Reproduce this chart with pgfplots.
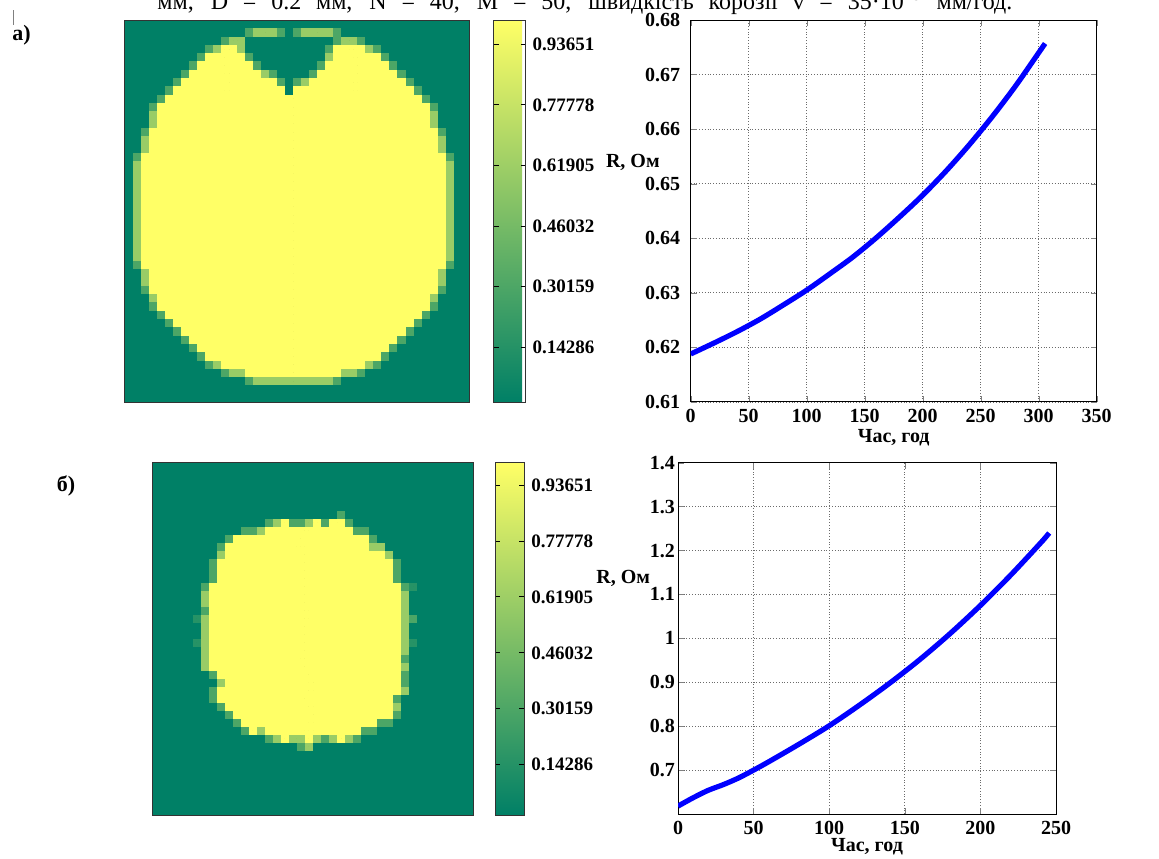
\documentclass[border=0pt]{standalone}
\usepackage{fontspec}
\setmainfont{Liberation Serif}
\usepackage{pgfplots}
\pgfplotsset{compat=1.18}
\definecolor{s0}{rgb}{0,0.5,0.4}
\definecolor{sF}{rgb}{0.15,0.575,0.4}
\definecolor{sM}{rgb}{0.3,0.65,0.4}
\definecolor{sL}{rgb}{0.6,0.8,0.4}
\definecolor{sY}{rgb}{1,1,0.4}
\definecolor{gridc}{rgb}{0.42,0.42,0.42}
\pgfplotsset{
  cellsbase/.style={only marks, mark=*, mark size=0pt, mark options={draw=none, fill=none},
    error bars/x dir=both, error bars/x explicit, error bars/error mark=none},
  heat/.style={scale only axis, xtick=\empty, ytick=\empty, y dir=reverse,
    axis background/.style={fill=s0}, axis line style={black!80, line width=0.5pt},
    colorbar, colormap={summer}{rgb=(0,0.5,0.4) rgb=(1,1,0.4)},
    point meta min=0, point meta max=1},
  cbarcommon/.style={colorbar style={
     scale only axis,
     ytick={0.14286,0.30159,0.46032,0.61905,0.77778,0.93651},
     yticklabels={0.14286,0.30159,0.46032,0.61905,0.77778,0.93651},
     tick align=inside,
     major tick length=2.5pt, major tick style={black, line width=0.5pt},
     yticklabel style={font=\bfseries\fontsize{9.5}{11}\selectfont},
     axis line style={black!80, line width=0.5pt}}},
  rplot/.style={scale only axis, grid=major,
     major grid style={densely dotted, gridc, line width=0.45pt},
     tick align=inside, major tick length=3pt, axis line style={black, line width=0.5pt},
     /pgf/number format/assume math mode=true,
     ticklabel style={font=\bfseries\fontsize{10}{12}\selectfont},
     xlabel={Час, год}, ylabel={R, Ом},
     scaled y ticks=false,
     yticklabel style={/pgf/number format/fixed, /pgf/number format/precision=2}},
}
\begin{document}
\begin{tikzpicture}
\path[use as bounding box] (0pt,0pt) rectangle (579.5pt,-429pt);
\draw[gray, line width=0.5pt] (6.75pt,-5pt) -- (6.75pt,-12.5pt);
\node[anchor=base west, font=\fontsize{12}{14}\selectfont, inner sep=0pt, text depth=0pt] at (78.5pt,-4.8pt) {\makebox[427.5pt][s]{мм, D = 0.2 мм, N = 40, M = 50, швидкість корозії v = 35·10\textsuperscript{−5} мм/год.}};
\node[font=\bfseries\fontsize{11}{13}\selectfont] at (10.75pt,-17.5pt) {а)};
\node[font=\bfseries\fontsize{11}{13}\selectfont] at (33pt,-243pt) {б)};

% ---------- heatmap a) ----------
\begin{axis}[heat, at={(62.35pt,-10pt)}, anchor=north west, width=172.5pt, height=191pt,
  xmin=0, xmax=43, ymin=0, ymax=46, cbarcommon,
  colorbar style={at={(parent axis.north east)}, anchor=north west, xshift=3.4pt, width=16pt, height=191pt}]
\addplot[cellsbase, error bars/error bar style={line width=4.25pt, color=sM}] table[x index=0,y index=1,x error index=2] {
17.5 1.5 2.5
24 1.5 3
13.5 2.5 1.5
28 2.5 2
12.5 3.5 2.5
28.5 3.5 3.5
12.5 4.5 3.5
29 4.5 4
12.5 5.5 4.5
29 5.5 5
13 6.5 6
29 6.5 6
13 7.5 7
28.5 7.5 7.5
12.5 8.5 7.5
29 8.5 8
21 9.5 17
21 10.5 18
21 13.5 19
21 16.5 20
21 29.5 20
21 32.5 19
21 34.5 18
21 35.5 17
21 36.5 16
21 37.5 15
21 38.5 14
21 39.5 13
21 40.5 12
21 41.5 11
21 42.5 9
21 43.5 6
};
\addplot[cellsbase, error bars/error bar style={line width=4.25pt, color=sL}] table[x index=0,y index=1,x error index=2] {
17.5 1.5 1.5
24 1.5 2
14 2.5 1
28 2.5 1
13 3.5 2
28.5 3.5 2.5
28.5 4.5 3.5
13 6.5 5
28.5 7.5 6.5
21 11.5 18
21 12.5 18
21 14.5 19
21 15.5 19
21 17.5 20
21 18.5 20
21 19.5 20
21 20.5 20
21 21.5 20
21 22.5 20
21 23.5 20
21 24.5 20
21 25.5 20
21 26.5 20
21 27.5 20
21 28.5 20
21 30.5 19
21 31.5 19
21 33.5 18
21 41.5 10
21 42.5 8
21 43.5 5
};
\addplot[cellsbase, error bars/error bar style={line width=4.25pt, color=sY}] table[x index=0,y index=1,x error index=2] {
13 3.5 1
28 3.5 2
12.5 4.5 2.5
29 4.5 3
12.5 5.5 3.5
29 5.5 4
12.5 6.5 4.5
29 6.5 5
13 7.5 6
29 7.5 6
13 8.5 7
28.5 8.5 7.5
21 9.5 16
21 10.5 17
21 11.5 17
21 12.5 17
21 13.5 18
21 14.5 18
21 15.5 18
21 16.5 19
21 17.5 19
21 18.5 19
21 19.5 19
21 20.5 19
21 21.5 19
21 22.5 19
21 23.5 19
21 24.5 19
21 25.5 19
21 26.5 19
21 27.5 19
21 28.5 19
21 29.5 19
21 30.5 18
21 31.5 18
21 32.5 18
21 33.5 17
21 34.5 17
21 35.5 16
21 36.5 15
21 37.5 14
21 38.5 13
21 39.5 12
21 40.5 11
21 41.5 9
21 42.5 6
};
\end{axis}

% ---------- line plot a) ----------
\begin{axis}[rplot, at={(345.35pt,-10pt)}, anchor=north west, width=203pt, height=191pt,
  xmin=0, xmax=350, ymin=0.61, ymax=0.68,
  xtick={0,50,100,150,200,250,300,350},
  ytick={0.61,0.62,0.63,0.64,0.65,0.66,0.67,0.68},
  yticklabel style={xshift=-1.7pt},
  every axis y label/.style={at={(axis description cs:0,0.626)}, anchor=east, xshift=-12pt,
    font=\bfseries\fontsize{10}{12}\selectfont},
  every axis x label/.style={at={(axis description cs:0.5,0)}, anchor=center, yshift=-18pt,
    font=\bfseries\fontsize{10}{12}\selectfont}]
\addplot[blue, line width=2.6pt, smooth] table {
0 0.6188
20 0.6208
40 0.6229
60 0.6252
80 0.6278
100 0.6305
120 0.6335
140 0.6366
160 0.6401
180 0.6439
200 0.6479
220 0.6523
240 0.6571
260 0.6623
280 0.6679
300 0.6740
305.5 0.6757
};
\end{axis}

% ---------- heatmap b) ----------
\begin{axis}[heat, at={(76.35pt,-231.35pt)}, anchor=north west, width=160.3pt, height=176.15pt,
  xmin=0, xmax=40, ymin=0, ymax=44, cbarcommon,
  colorbar style={at={(parent axis.north east)}, anchor=north west, xshift=2.35pt, width=14.65pt, height=176.15pt}]
\addplot[cellsbase, error bars/error bar style={line width=4.1pt, color=sF}] table[x index=0,y index=1,x error index=2] {
32.5 15.5 0.5
5.5 19.5 0.5
5.5 22.5 0.5
32.5 22.5 0.5
};
\addplot[cellsbase, error bars/error bar style={line width=4.1pt, color=sM}] table[x index=0,y index=1,x error index=2] {
23.5 6.5 0.5
19.5 7.5 5.5
19 8.5 8
18.5 9.5 9.5
18.5 10.5 10.5
19 12.5 12
19 13.5 12
19 14.5 12
19 15.5 13
19 18.5 13
19.5 19.5 13.5
19 24.5 13
19.5 26.5 12.5
20 27.5 12
19.5 28.5 12.5
19 29.5 12
19.5 30.5 11.5
20 31.5 11
20 32.5 10
19.5 33.5 8.5
20 34.5 6
19 35.5 1
};
\addplot[cellsbase, error bars/error bar style={line width=4.1pt, color=sL}] table[x index=0,y index=1,x error index=2] {
16 7.5 1
20 7.5 1
19 8.5 6
19 10.5 10
19 11.5 11
19 16.5 13
19 17.5 13
19.5 18.5 12.5
19 19.5 13
19 20.5 13
19 21.5 13
19 22.5 13
19 23.5 13
18.5 24.5 12.5
19 25.5 13
19.5 27.5 11.5
20 28.5 12
20 30.5 11
19 33.5 7
18 34.5 3
23.5 34.5 1.5
19.5 35.5 0.5
};
\addplot[cellsbase, error bars/error bar style={line width=4.1pt, color=sY}] table[x index=0,y index=1,x error index=2] {
16.5 7.5 0.5
20.5 7.5 0.5
23 7.5 1
19.5 8.5 5.5
18.5 9.5 8.5
18 10.5 9
19 11.5 10
19 12.5 11
19 13.5 11
19 14.5 11
19 15.5 12
19 16.5 12
19 17.5 12
19 18.5 12
19 19.5 12
19 20.5 12
19 21.5 12
19 22.5 12
19 23.5 12
19 24.5 12
19 25.5 12
19.5 26.5 11.5
20 27.5 11
19.5 28.5 11.5
19 29.5 11
19.5 30.5 10.5
20 31.5 10
19.5 32.5 8.5
12.5 33.5 0.5
20 33.5 6
16.5 34.5 0.5
19.5 34.5 0.5
23.5 34.5 0.5
};
\end{axis}

% ---------- line plot b) ----------
\begin{axis}[rplot, at={(339pt,-231.35pt)}, anchor=north west, width=189pt, height=175.65pt,
  xmin=0, xmax=250, ymin=0.6, ymax=1.4,
  xtick={0,50,100,150,200,250},
  ytick={0.7,0.8,0.9,1,1.1,1.2,1.3,1.4},
  yticklabel style={xshift=2pt},
  every axis y label/.style={at={(axis description cs:0,0.672)}, anchor=east, xshift=-10.5pt,
    font=\bfseries\fontsize{10}{12}\selectfont},
  every axis x label/.style={at={(axis description cs:0.5,0)}, anchor=center, yshift=-16.35pt,
    font=\bfseries\fontsize{10}{12}\selectfont}]
\addplot[blue, line width=2.6pt, smooth] table {
0 0.618
10 0.637
20 0.654
30 0.667
40 0.682
50 0.700
60 0.719
80 0.759
100 0.801
120 0.848
140 0.898
160 0.952
180 1.011
200 1.075
220 1.144
240 1.218
245.5 1.240
};
\end{axis}
\end{tikzpicture}
\end{document}
